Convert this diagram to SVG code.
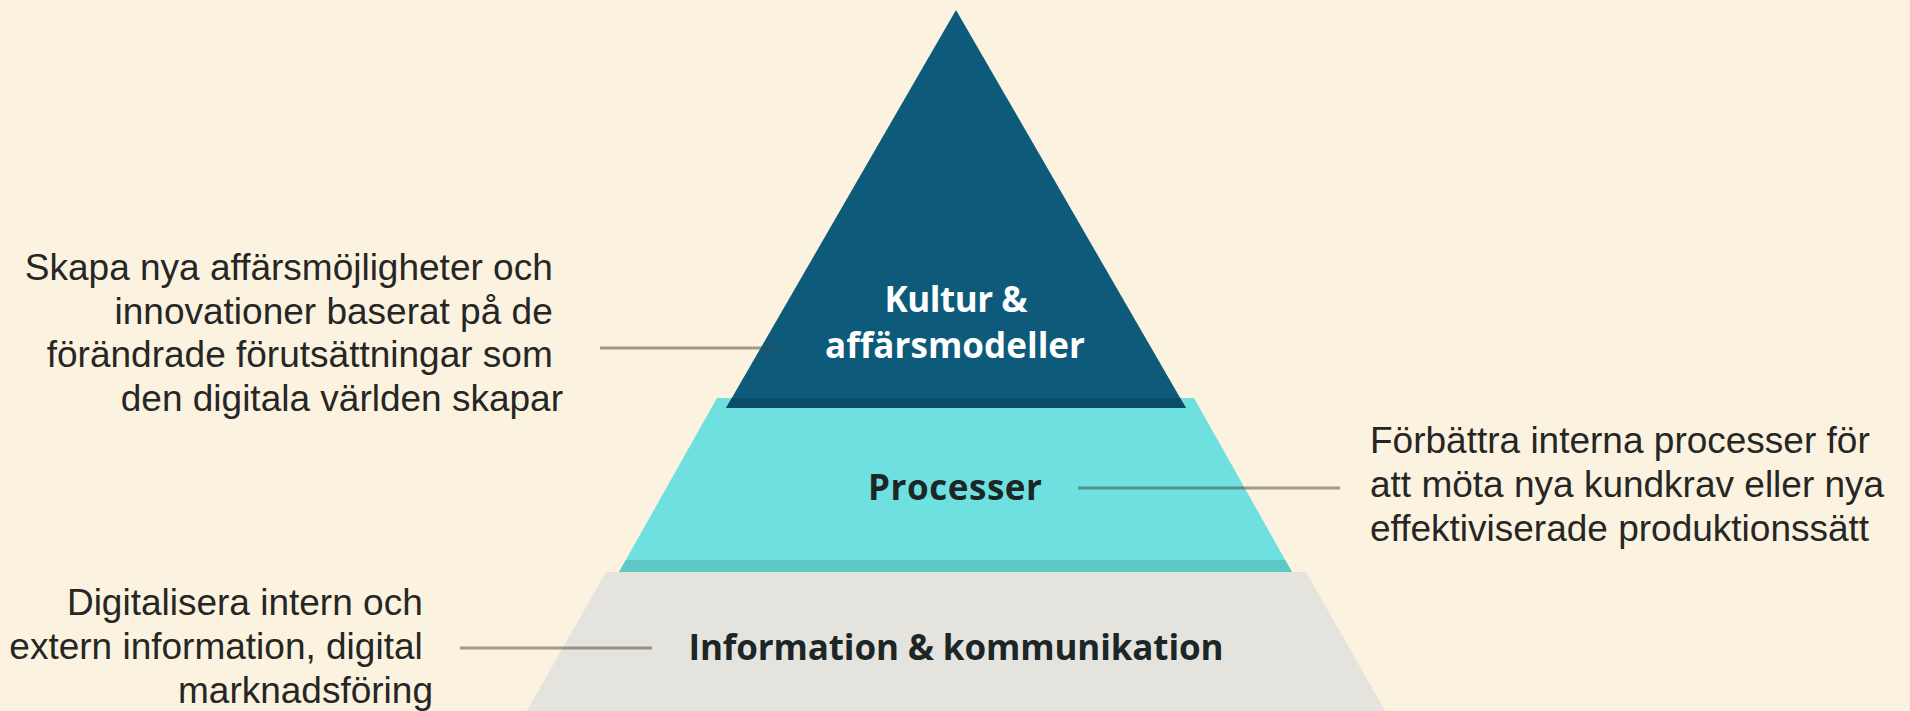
<svg xmlns="http://www.w3.org/2000/svg" width="1910" height="711" viewBox="0 0 1910 711">
  <style>
    .desc { font-family: "Liberation Sans", Arial, sans-serif; font-size: 37px; fill: #262624; }
    .lbl { font-family: "Open Sans", "Noto Sans", sans-serif; font-size: 35px; font-weight: 700; text-anchor: middle; }
    .lbl-light { fill: #ffffff; }
    .lbl-dark { fill: #1c2626; }
    .conn { stroke: #4a4236; stroke-opacity: 0.5; stroke-width: 3; fill: none; }
  </style>
  <rect x="0" y="0" width="1910" height="711" fill="#fbf3e0"/>

  <g id="level-information">
    <polygon points="606,572 1306,572 1388,716 524,716" fill="#e4e3dd"/>
    <text class="lbl lbl-dark" x="956" y="660" textLength="535" lengthAdjust="spacing">Information &amp; kommunikation</text>
  </g>

  <g id="level-processer">
    <polygon points="717,398 1194,398 1292,572 619,572" fill="#6ee0df"/>
    <polygon points="626,560 1285,560 1292,572 619,572" fill="#5ec8c7"/>
    <text class="lbl lbl-dark" x="955" y="500" textLength="174" lengthAdjust="spacing">Processer</text>
  </g>

  <g id="level-kultur">
    <polygon points="956,10 1186,408 726,408" fill="#0d5a7b"/>
    <polygon points="732,398 1180,398 1186,408 726,408" fill="#0a4b67"/>
    <text class="lbl lbl-light" x="956" y="312" textLength="143" lengthAdjust="spacing">Kultur &amp;</text>
    <text class="lbl lbl-light" x="955" y="358" textLength="260" lengthAdjust="spacing">affärsmodeller</text>
  </g>

  <g id="connectors">
    <line class="conn" x1="600" y1="348" x2="780" y2="348"/>
    <line class="conn" x1="1078" y1="488" x2="1340" y2="488"/>
    <line class="conn" x1="460" y1="648" x2="652" y2="648"/>
  </g>

  <g id="note-kultur">
    <text class="desc" text-anchor="end">
      <tspan x="563" y="280">Skapa nya affärsmöjligheter och</tspan>
      <tspan x="563" y="323.5">innovationer baserat på de</tspan>
      <tspan x="563" y="367">förändrade förutsättningar som</tspan>
      <tspan x="563" y="410.5">den digitala världen skapar</tspan>
    </text>
  </g>

  <g id="note-processer">
    <text class="desc">
      <tspan x="1370" y="453">Förbättra interna processer för</tspan>
      <tspan x="1370" y="497">att möta nya kundkrav eller nya</tspan>
      <tspan x="1370" y="541">effektiviserade produktionssätt</tspan>
    </text>
  </g>

  <g id="note-information">
    <text class="desc" text-anchor="end">
      <tspan x="433" y="615">Digitalisera intern och</tspan>
      <tspan x="433" y="659">extern information, digital</tspan>
      <tspan x="433" y="703">marknadsföring</tspan>
    </text>
  </g>
</svg>
